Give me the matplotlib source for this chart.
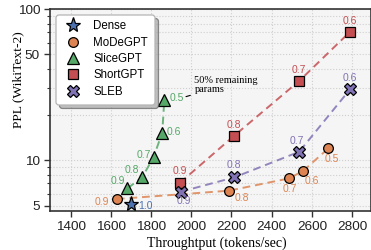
import matplotlib
matplotlib.use("Agg")
import matplotlib.pyplot as plt
from matplotlib.ticker import FixedLocator, NullFormatter, LogLocator
from matplotlib.patches import FancyBboxPatch, Shadow
from matplotlib.transforms import IdentityTransform

# ---- data ----
dense_x = [1700]
dense_y = [5.12]
dense_lbl = ["1.0"]

modegpt_x = [1630, 2188, 2488, 2557, 2682]
modegpt_y = [5.52, 6.27, 7.57, 8.49, 11.95]
modegpt_lbl = ["0.9", "0.8", "0.7", "0.6", "0.5"]

slicegpt_x = [1683, 1756, 1813, 1856, 1866]
slicegpt_y = [6.5, 7.68, 10.47, 15.2, 24.9]
slicegpt_lbl = ["0.9", "0.8", "0.7", "0.6", "0.5"]

shortgpt_x = [1944, 2214, 2537, 2790]
shortgpt_y = [7.07, 14.5, 33.4, 70.7]
shortgpt_lbl = ["0.9", "0.8", "0.7", "0.6"]

sleb_x = [1948, 2214, 2537, 2790]
sleb_y = [6.17, 7.68, 11.35, 29.4]
sleb_lbl = ["0.9", "0.8", "0.7", "0.6"]

x_ticks = [1400, 1600, 1800, 2000, 2200, 2400, 2600, 2800]
y_ticks = [5, 10, 50, 100]

c_blue = "#4C72B0"
c_orange = "#DD8452"
c_green = "#55A868"
c_red = "#C44E52"
c_purple = "#8172B3"

fig = plt.figure(figsize=(3.71, 2.5), dpi=100)
ax = fig.add_axes([0.136, 0.156, 0.864, 0.808])
ax.set_facecolor("#f5f5f5")

ax.set_yscale("log")
ax.set_xlim(1300, 2894)
ax.set_ylim(4.6, 100)

ax.grid(True, which="major", axis="both", color="#cfcfcf", linestyle=":", linewidth=0.8)
ax.grid(True, which="minor", axis="y", color="#cfcfcf", linestyle=":", linewidth=0.8)
ax.set_axisbelow(True)

ls = dict(linestyle="--", linewidth=1.4, dashes=(4, 2.5))
mk = dict(markeredgecolor="black", markeredgewidth=0.9)

ax.plot(modegpt_x, modegpt_y, color=c_orange, alpha=0.85, zorder=2, **ls)
ax.plot(slicegpt_x, slicegpt_y, color=c_green, alpha=0.85, zorder=2, **ls)
ax.plot(shortgpt_x, shortgpt_y, color=c_red, alpha=0.85, zorder=2, **ls)
ax.plot(sleb_x, sleb_y, color=c_purple, alpha=0.85, zorder=2, **ls)

ax.plot(dense_x, dense_y, linestyle="none", marker="*", markersize=11, color=c_blue, label="Dense", zorder=4, **mk)
ax.plot(modegpt_x, modegpt_y, linestyle="none", marker="o", markersize=7, color=c_orange, label="MoDeGPT", zorder=3, **mk)
ax.plot(slicegpt_x, slicegpt_y, linestyle="none", marker="^", markersize=8, color=c_green, label="SliceGPT", zorder=3, **mk)
ax.plot(shortgpt_x, shortgpt_y, linestyle="none", marker="s", markersize=7, color=c_red, label="ShortGPT", zorder=3, **mk)
ax.plot(sleb_x, sleb_y, linestyle="none", marker="X", markersize=8, color=c_purple, label="SLEB", zorder=3, **mk)

def lab(xs, ys, lbls, offs, color):
    for x, y, t, (dx, dy) in zip(xs, ys, lbls, offs):
        ax.annotate(t, (x, y), xytext=(dx, dy), textcoords="offset pixels",
                    ha="center", va="center", fontsize=7.5, color=color,
                    family="Liberation Sans", zorder=5)

lab(dense_x, dense_y, dense_lbl, [(15, -2)], c_blue)
lab(modegpt_x, modegpt_y, modegpt_lbl, [(-15, -3), (13, -7), (0, -11), (9, -10), (3, -11)], c_orange)
lab(slicegpt_x, slicegpt_y, slicegpt_lbl, [(-10, 7), (-10, 7), (-10, 2), (12, 1), (13, 2)], c_green)
lab(shortgpt_x, shortgpt_y, shortgpt_lbl, [(0, 12), (0, 11), (0, 11), (0, 11)], c_red)
lab(sleb_x, sleb_y, sleb_lbl, [(3, -9), (0, 12), (-2, 11), (0, 11)], c_purple)

ax.annotate("50% remaining\nparams", xy=(1974, 26.3), xytext=(2016, 31.4),
            textcoords="data", ha="left", va="center", fontsize=7.5,
            family="Liberation Serif", linespacing=1.05,
            arrowprops=dict(arrowstyle="-", color="black", lw=0.8, shrinkA=1, shrinkB=0),
            zorder=5)

ax.yaxis.set_major_locator(FixedLocator(y_ticks))
ax.yaxis.set_minor_locator(LogLocator(base=10, subs=range(2, 10)))
ax.yaxis.set_minor_formatter(NullFormatter())
ax.set_yticks(y_ticks)
ax.set_yticklabels([str(v) for v in y_ticks])
ax.set_xticks(x_ticks)
ax.set_xticklabels([str(v) for v in x_ticks])

ax.tick_params(axis="both", which="major", labelsize=9.7, length=4, width=1, color="#333333", direction="out")
ax.tick_params(axis="y", which="minor", length=2.5, width=0.8, color="#333333")
for t in ax.get_xticklabels() + ax.get_yticklabels():
    t.set_family("Liberation Sans")
    t.set_color("#222222")

for s in ax.spines.values():
    s.set_color("#333333")
    s.set_linewidth(1.2)

ax.set_xlabel("Throughtput (tokens/sec)", family="Liberation Serif", fontsize=10)
ax.set_ylabel("PPL (WikiText-2)", family="Liberation Serif", fontsize=9.7)
ax.xaxis.set_label_coords(0.52, -0.125)
ax.yaxis.set_label_coords(-0.082, 0.65)

# legend frame (drawn separately so its size matches the reference)
frame = FancyBboxPatch((56, 145), 99, 90, boxstyle="round,pad=0,rounding_size=3",
                       transform=IdentityTransform(), facecolor="white",
                       edgecolor="#b5b5b5", linewidth=0.9, zorder=6)
shadow = Shadow(frame, 2.5, -2.5)
shadow.set_facecolor("#9a9a9a")
shadow.set_alpha(0.6)
shadow.set_zorder(5.9)
ax.add_artist(shadow)
ax.add_artist(frame)

leg = ax.legend(loc="upper left", bbox_to_anchor=(0.0415, 0.944),
                prop={"family": "Liberation Sans", "size": 8.3},
                frameon=False, borderpad=0.0, labelspacing=0.38,
                handletextpad=0.94, handlelength=1.6, borderaxespad=0.0)
leg.set_zorder(7)

fig.savefig("out.png", dpi=100)
